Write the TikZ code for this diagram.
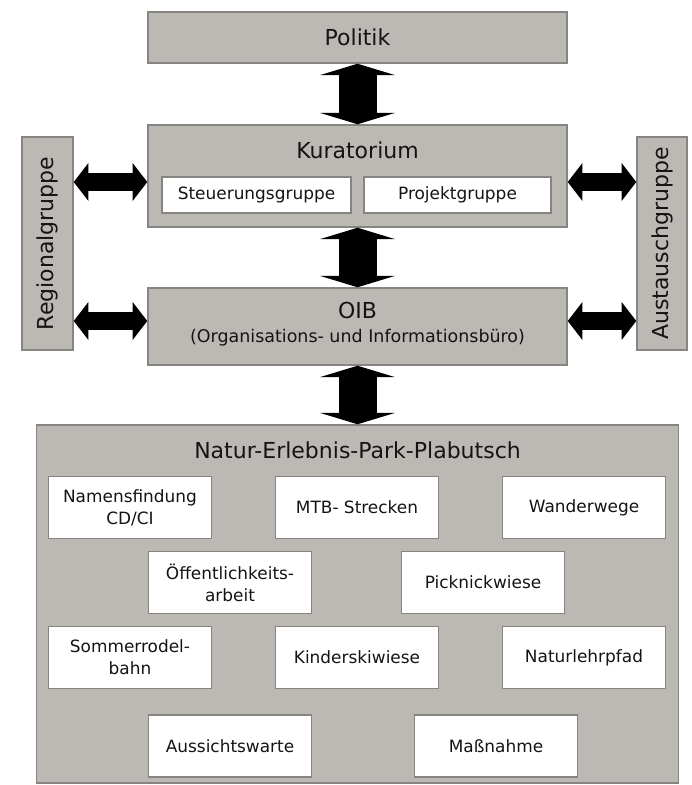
\documentclass[tikz,border=0pt]{standalone}
\usepackage{fontspec}
\setmainfont{DejaVu Sans}
\usepackage{xcolor}
\usepackage{tikz}
\usetikzlibrary{arrows.meta}
\usetikzlibrary{calc}
\definecolor{boxgray}{RGB}{188,185,181}
\definecolor{edgegray}{RGB}{135,133,130}
\colorlet{txt}{black!92}
\newcommand\bigfont{\fontsize{16.5}{20}\selectfont}
\newcommand\smallfont{\fontsize{12.7}{16.5}\selectfont}
\newcommand\subfont{\fontsize{13.1}{16.5}\selectfont}
\tikzstyle{grp}=[draw=edgegray,line width=1.1pt,fill=boxgray,inner sep=0pt,font=\bigfont,text=txt]
\tikzstyle{entry}=[draw=edgegray,line width=1pt,fill=white,inner sep=0pt,align=center,font=\smallfont,text=txt,minimum width=122.25pt,minimum height=46.5pt]
\tikzstyle{headline}=[inner sep=0pt,font=\bigfont,text=txt]
\tikzstyle{subline}=[inner sep=0pt,font=\subfont,text=txt]
\tikzstyle{bighead}=[>/.tip={Triangle[length=8.5pt,width=56pt,line width=0pt]}]
\tikzstyle{smallhead}=[>/.tip={Triangle[length=11pt,width=28.5pt,line width=0pt]}]
\tikzstyle{vfat}=[line width=28.5pt,bighead,<->]
\tikzstyle{hfat}=[line width=13.5pt,smallhead,<->]

\begin{document}
\begin{tikzpicture}[x=0.75pt,y=-0.75pt]
	\useasboundingbox (0,0) rectangle (692,785);
	\node[grp,minimum width=314.25pt,minimum height=38.25pt] (pol) at (357.5,37.5) {Politik};
	\node[grp,minimum width=314.25pt,minimum height=76.5pt] (kur) at (357.5,176) {};
	\node[headline] (kurt) at (357.5,150) {Kuratorium};
	\node[entry,minimum width=141.75pt,minimum height=27pt] (steu) at (256.5,195) {Steuerungsgruppe};
	\node[entry,minimum width=140.25pt,minimum height=27pt] (proj) at (457.5,195) {Projektgruppe};
	\node[grp,minimum width=314.25pt,minimum height=57.75pt] (oib) at (357.5,326.5) {};
	\node[headline] (oibt) at (357.5,310) {OIB};
	\node[subline] (oibs) at (357.5,338) {(Organisations- und Informationsbüro)};
	\node[grp,rotate=90,minimum width=159.75pt,minimum height=38.25pt] (reg) at (47.5,243.5) {Regionalgruppe};
	\node[grp,rotate=90,minimum width=159.75pt,minimum height=37.5pt] (aus) at (662,243.5) {Austauschgruppe};
	\node[grp,minimum width=481.5pt,minimum height=268.5pt] (park) at (357.5,604) {};
	\node[headline] (parkt) at (357.5,450) {Natur-Erlebnis-Park-Plabutsch};
	% Teilprojekte
	\node[entry] (name) at (130,507.5) {Namensfindung\\CD/CI};
	\node[entry] (mtb)  at (357,507.5) {MTB- Strecken};
	\node[entry] (wand) at (584,507.5) {Wanderwege};
	\node[entry] (oeff) at (230,582.5) {Öffentlichkeits-\\arbeit};
	\node[entry] (pick) at (483,582.5) {Picknickwiese};
	\node[entry] (rodel) at (130,657.5) {Sommerrodel-\\bahn};
	\node[entry] (kind) at (357,657.5) {Kinderskiwiese};
	\node[entry] (lehr) at (584,657.5) {Naturlehrpfad};
	\node[entry] (auss) at (230,746) {Aussichtswarte};
	\node[entry] (mass) at (496,746) {Maßnahme};
	\draw[vfat] (pol) -- (kur);
	\draw[vfat] (kur) -- (oib);
	\draw[vfat] (oib) -- (park);
	\draw[hfat] ($(kur.west)+(0,6)$) -- ($(kur.west -| reg.south)+(0,6)$);
	\draw[hfat] ($(kur.east)+(0,6)$) -- ($(kur.east -| aus.north)+(0,6)$);
	\draw[hfat] ($(oib.west)+(0,-5.5)$) -- ($(oib.west -| reg.south)+(0,-5.5)$);
	\draw[hfat] ($(oib.east)+(0,-5.5)$) -- ($(oib.east -| aus.north)+(0,-5.5)$);
\end{tikzpicture}
\end{document}
